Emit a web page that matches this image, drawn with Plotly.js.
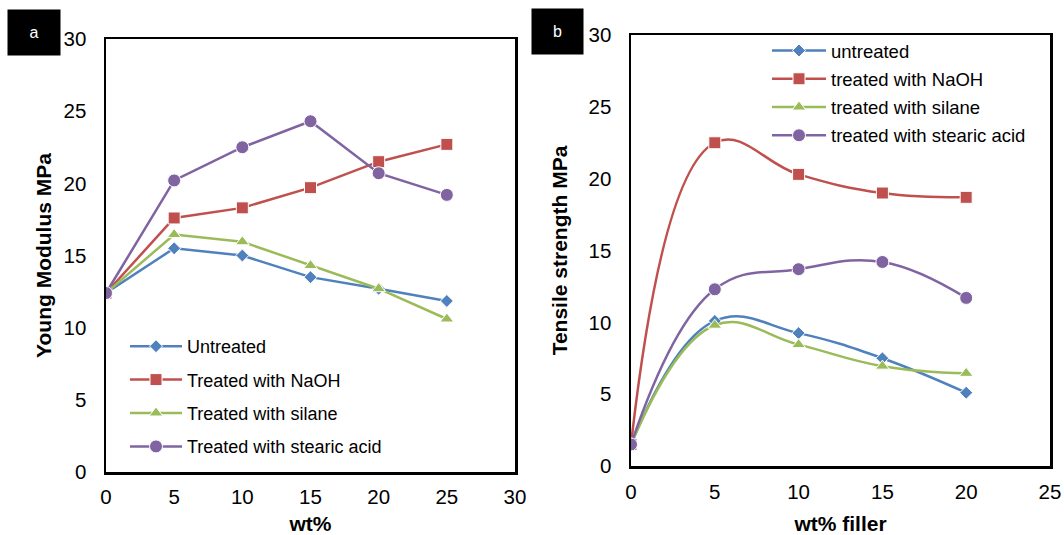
<!DOCTYPE html>
<html>
<head>
<meta charset="utf-8">
<script src="https://cdn.plot.ly/plotly-3.0.1.min.js"></script>
<style>html,body{margin:0;padding:0;background:#fff;}#chart{width:1064px;height:535px;}</style>
</head>
<body>
<div id="chart"></div>
<script>
// Panel a: Young modulus
const wtA = [0, 5, 10, 15, 20, 25];
const ymUntreated = [12.4, 15.5, 15.0, 13.5, 12.7, 11.85];
const ymNaOH      = [12.4, 17.6, 18.3, 19.7, 21.5, 22.7];
const ymSilane    = [12.4, 16.45, 15.95, 14.3, 12.7, 10.6];
const ymStearic   = [12.4, 20.2, 22.5, 24.3, 20.7, 19.2];
const namesA = ["Untreated", "Treated with NaOH", "Treated with silane", "Treated with stearic acid"];

// Panel b: Tensile strength
const wtB = [0, 5, 10, 15, 20];
const tsUntreated = [1.5, 10.1, 9.25, 7.5, 5.1];
const tsNaOH      = [1.5, 22.5, 20.3, 19.0, 18.7];
const tsSilane    = [1.5, 9.8, 8.45, 6.95, 6.45];
const tsStearic   = [1.5, 12.3, 13.7, 14.2, 11.7];
const namesB = ["untreated", "treated with NaOH", "treated with silane", "treated with stearic acid"];

const colors = ["#4F81BD", "#C0504D", "#9BBB59", "#8064A2"];
const symbols = ["diamond", "square", "triangle-up", "circle"];
const msizes = [10, 12, 12, 13];

const W = 1064, H = 535;
const fx = p => p / W;
const fy = p => 1 - p / H;

const seriesA = [ymUntreated, ymNaOH, ymSilane, ymStearic];
const seriesB = [tsUntreated, tsNaOH, tsSilane, tsStearic];

const traces = [];
seriesA.forEach((ys, i) => {
  traces.push({
    x: wtA, y: ys, name: namesA[i], type: "scatter", mode: "lines+markers",
    xaxis: "x", yaxis: "y", legend: "legend", legendgroup: "a" + i,
    line: {color: colors[i], width: 2.5},
    marker: {symbol: symbols[i], size: msizes[i], color: colors[i], line: {color: "#fff", width: 1}}
  });
});
seriesB.forEach((ys, i) => {
  traces.push({
    x: wtB, y: ys, name: namesB[i], type: "scatter", mode: "lines+markers",
    xaxis: "x2", yaxis: "y2", legend: "legend2", legendgroup: "b" + i,
    line: {color: colors[i], width: 2.5, shape: "spline", smoothing: 1.2},
    marker: {symbol: symbols[i], size: msizes[i], color: colors[i], line: {color: "#fff", width: 1}}
  });
});

const FAM = "Liberation Sans, Arial, sans-serif";
const tickFont = {family: FAM, size: 20.5, color: "#000"};
const titleFont = {family: FAM, size: 21, color: "#000", weight: "bold"};

const axisBase = {
  showline: true, mirror: true, linecolor: "#000", linewidth: 2.5,
  showgrid: false, zeroline: false, ticks: "", tickfont: tickFont, automargin: false
};

const layout = {
  width: W, height: H,
  margin: {l: 0, r: 0, t: 0, b: 0},
  paper_bgcolor: "#fff", plot_bgcolor: "#fff",
  font: {family: FAM, color: "#000"},
  xaxis: Object.assign({}, axisBase, {
    domain: [fx(106), fx(515)], range: [0, 30], tickvals: [0,5,10,15,20,25,30],
    anchor: "y", ticklabelstandoff: 5,
    title: {text: "wt%", font: titleFont, standoff: 11}
  }),
  yaxis: Object.assign({}, axisBase, {
    domain: [fy(472), fy(39)], range: [0, 30], tickvals: [0,5,10,15,20,25,30],
    anchor: "x", ticklabelstandoff: 13,
    title: {text: "Young Modulus MPa", font: titleFont, standoff: 6}
  }),
  xaxis2: Object.assign({}, axisBase, {
    domain: [fx(631), fx(1050)], range: [0, 25], tickvals: [0,5,10,15,20,25],
    anchor: "y2", ticklabelstandoff: 6,
    title: {text: "wt% filler", font: titleFont, standoff: 25}
  }),
  yaxis2: Object.assign({}, axisBase, {
    domain: [fy(466), fy(35)], range: [0, 30], tickvals: [0,5,10,15,20,25,30],
    anchor: "x2", ticklabelstandoff: 13,
    title: {text: "Tensile strength MPa", font: titleFont, standoff: 15}
  }),
  legend: {
    x: fx(125), y: fy(328), xanchor: "left", yanchor: "top",
    bgcolor: "rgba(0,0,0,0)", borderwidth: 0,
    font: {family: FAM, size: 18, color: "#000"},
    tracegroupgap: 7, itemwidth: 52
  },
  legend2: {
    x: fx(767), y: fy(32), xanchor: "left", yanchor: "top",
    bgcolor: "rgba(0,0,0,0)", borderwidth: 0,
    font: {family: FAM, size: 18.5, color: "#000"},
    tracegroupgap: 1.2, itemwidth: 54
  },
  showlegend: true,
  annotations: [
    {text: "a", x: fx(7), y: fy(9), xref: "paper", yref: "paper", xanchor: "left", yanchor: "top",
     showarrow: false, bgcolor: "#000", width: 52, height: 45, align: "center", valign: "middle",
     font: {family: FAM, size: 16, color: "#fff"}, borderpad: 0},
    {text: "b", x: fx(531), y: fy(8), xref: "paper", yref: "paper", xanchor: "left", yanchor: "top",
     showarrow: false, bgcolor: "#000", width: 51, height: 45, align: "center", valign: "middle",
     font: {family: FAM, size: 16, color: "#fff"}, borderpad: 0}
  ]
};

Plotly.newPlot("chart", traces, layout, {displayModeBar: false, staticPlot: true});
</script>
</body>
</html>
